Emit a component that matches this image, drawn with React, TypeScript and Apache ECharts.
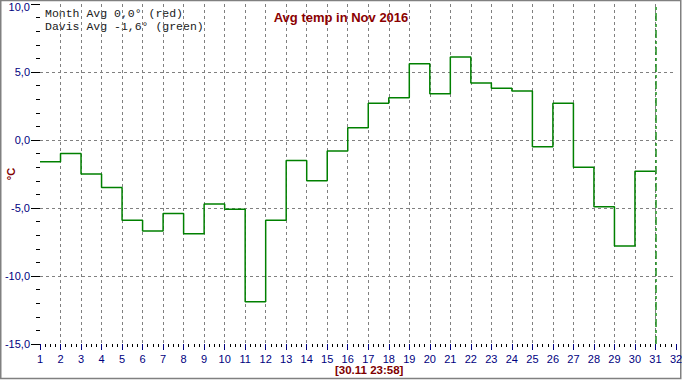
import React, { useEffect, useRef } from "react";
import * as echarts from "echarts";

const days = [1, 2, 3, 4, 5, 6, 7, 8, 9, 10, 11, 12, 13, 14, 15, 16, 17, 18, 19, 20, 21, 22, 23, 24, 25, 26, 27, 28, 29, 30];
const davisAvg = [-1.6, -1.0, -2.5, -3.5, -5.9, -6.7, -5.4, -6.9, -4.7, -5.1, -11.9, -5.9, -1.5, -3.0, -0.8, 0.9, 2.7, 3.1, 5.6, 3.4, 6.1, 4.2, 3.8, 3.6, -0.5, 2.7, -2.0, -4.9, -7.8, -2.3];
const markerDay = 31;
const titleText = "Avg temp in Nov 2016";
const legendLines = ["Month Avg 0,0\u00b0 (red)", "Davis Avg -1,6\u00b0 (green)"];
const stampText = "[30.11 23:58]";
const yAxisName = "\u00b0C";
const yMin = -15;
const yMax = 10;

export default function App() {
  const ref = useRef<HTMLDivElement>(null);
  useEffect(() => {
    if (!ref.current) return;
    const chart = echarts.init(ref.current, null, { renderer: "svg" });
    const stepData: number[][] = days.map((d, i) => [d, davisAvg[i]]);
    stepData.push([days[days.length - 1] + 1, davisAvg[davisAvg.length - 1]]);
    const navy = "#000080";
    const grid = "#808080";
    chart.setOption({
      animation: false,
      backgroundColor: "#ffffff",
      title: {
        text: titleText,
        left: "center",
        top: 6,
        textStyle: { color: "#8b0000", fontSize: 13, fontWeight: "bold", fontFamily: "Liberation Sans, Arial, sans-serif" },
      },
      grid: { left: 40, right: 6, top: 4, bottom: 36, containLabel: false, outerBoundsMode: "none" },
      xAxis: {
        type: "value",
        min: 1,
        max: 32,
        interval: 1,
        axisLine: { show: false, onZero: false },
        axisTick: { show: true, length: 6, lineStyle: { color: navy, width: 1 } },
        minorTick: { show: true, splitNumber: 4, length: 3, lineStyle: { color: "#000000", width: 1 } },
        axisLabel: { color: navy, fontSize: 11, margin: 9, fontFamily: "Liberation Sans, Arial, sans-serif", showMinLabel: true, showMaxLabel: true },
        splitLine: { show: true, showMinLine: false, showMaxLine: false, lineStyle: { color: grid, type: [3, 3], width: 1 } },
      },
      yAxis: {
        type: "value",
        min: yMin,
        max: yMax,
        interval: 5,
        name: yAxisName,
        nameLocation: "middle",
        nameRotate: 90,
        nameGap: 24,
        nameMoveOverlap: false,
        nameTextStyle: { color: "#800000", fontSize: 11, fontWeight: "bold", fontFamily: "Liberation Sans, Arial, sans-serif" },
        axisLine: { show: false, onZero: false },
        axisTick: { show: true, length: 9, lineStyle: { color: "#000000", width: 1 } },
        minorTick: { show: true, splitNumber: 5, length: 4, lineStyle: { color: "#000000", width: 1 } },
        axisLabel: {
          color: navy,
          fontSize: 11,
          margin: 10,
          fontFamily: "Liberation Sans, Arial, sans-serif",
          formatter: (v: number) => {
            const s = v.toFixed(1).replace(".", ",");
            return v === yMax ? `{t|${s}}` : s;
          },
          rich: {
            t: { color: navy, fontSize: 11, fontFamily: "Liberation Sans, Arial, sans-serif", padding: [5, 0, 0, 0] },
          },
        },
        splitLine: { show: true, showMinLine: false, showMaxLine: false, lineStyle: { color: grid, type: [3, 3], width: 1 } },
      },
      series: [
        {
          type: "line",
          step: "end",
          data: stepData,
          symbol: "none",
          lineStyle: { color: "#008000", width: 1.5 },
          markLine: {
            silent: true,
            symbol: "none",
            label: { show: false },
            lineStyle: { color: "#1a8a1a", type: [8, 3, 3, 3], width: 1.5 },
            data: [{ xAxis: markerDay }],
          },
        },
      ],
      graphic: [
        {
          type: "rect",
          shape: { x: 0.75, y: 0.5, width: 680, height: 378 },
          style: { fill: "none", stroke: "#808080", lineWidth: 1.5 },
          silent: true,
        },
        ...legendLines.map((t, i) => ({
          type: "text",
          left: 45,
          top: 7 + i * 13,
          style: { text: t, fill: "#202020", font: "11.5px 'Liberation Mono', 'Courier New', monospace" },
        })),
        {
          type: "text",
          left: 335,
          top: 364,
          style: { text: stampText, fill: "#800000", font: "bold 11.5px 'Liberation Sans', Arial, sans-serif" },
        },
      ],
    });
    return () => chart.dispose();
  }, []);
  return (
    <div
      ref={ref}
      style={{ position: "absolute", left: 0, top: 0, width: 682, height: 380 }}
    />
  );
}
